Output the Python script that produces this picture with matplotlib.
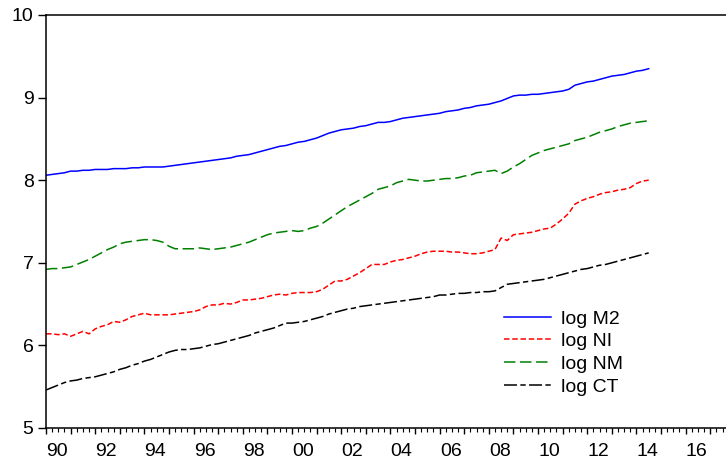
import numpy as np
import matplotlib
matplotlib.use("Agg")
import matplotlib.pyplot as plt
from matplotlib.ticker import MultipleLocator

plt.rcParams['font.family'] = ['Liberation Sans', 'DejaVu Sans']

# quarterly series, 1990Q1 - 2014Q3
start_year = 1990
log_m2 = [
    8.06, 8.07, 8.08, 8.09,  8.11, 8.11, 8.12, 8.12,  8.13, 8.13, 8.13, 8.14,
    8.14, 8.14, 8.15, 8.15,  8.16, 8.16, 8.16, 8.16,  8.17, 8.18, 8.19, 8.20,
    8.21, 8.22, 8.23, 8.24,  8.25, 8.26, 8.27, 8.29,  8.30, 8.31, 8.33, 8.35,
    8.37, 8.39, 8.41, 8.42,  8.44, 8.46, 8.47, 8.49,  8.51, 8.54, 8.57, 8.59,
    8.61, 8.62, 8.63, 8.65,  8.66, 8.68, 8.70, 8.70,  8.71, 8.73, 8.75, 8.76,
    8.77, 8.78, 8.79, 8.80,  8.81, 8.83, 8.84, 8.85,  8.87, 8.88, 8.90, 8.91,
    8.92, 8.94, 8.96, 8.99,  9.02, 9.03, 9.03, 9.04,  9.04, 9.05, 9.06, 9.07,
    9.08, 9.10, 9.15, 9.17,  9.19, 9.20, 9.22, 9.24,  9.26, 9.27, 9.28, 9.30,
    9.32, 9.33, 9.35,
]
log_ni = [
    6.14, 6.14, 6.13, 6.14,  6.11, 6.14, 6.17, 6.14,  6.20, 6.23, 6.25, 6.29,
    6.28, 6.31, 6.35, 6.37,  6.39, 6.37, 6.37, 6.37,  6.37, 6.38, 6.39, 6.40,
    6.41, 6.43, 6.47, 6.49,  6.49, 6.51, 6.50, 6.52,  6.55, 6.55, 6.56, 6.57,
    6.59, 6.61, 6.62, 6.61,  6.63, 6.64, 6.64, 6.64,  6.65, 6.68, 6.73, 6.78,
    6.78, 6.80, 6.84, 6.88,  6.93, 6.98, 6.98, 6.98,  7.01, 7.03, 7.04, 7.06,
    7.08, 7.11, 7.13, 7.14,  7.14, 7.14, 7.13, 7.13,  7.12, 7.11, 7.11, 7.12,
    7.14, 7.16, 7.30, 7.27,  7.34, 7.35, 7.36, 7.37,  7.39, 7.41, 7.42, 7.47,
    7.53, 7.60, 7.71, 7.75,  7.78, 7.80, 7.83, 7.85,  7.86, 7.88, 7.89, 7.91,
    7.96, 7.99, 8.00,
]
log_nm = [
    6.92, 6.93, 6.93, 6.94,  6.95, 6.98, 7.01, 7.04,  7.08, 7.12, 7.16, 7.19,
    7.23, 7.25, 7.26, 7.27,  7.28, 7.28, 7.27, 7.25,  7.20, 7.17, 7.17, 7.17,
    7.17, 7.18, 7.17, 7.16,  7.17, 7.18, 7.19, 7.21,  7.23, 7.25, 7.28, 7.31,
    7.34, 7.36, 7.37, 7.38,  7.39, 7.38, 7.39, 7.42,  7.44, 7.48, 7.53, 7.58,
    7.63, 7.68, 7.72, 7.76,  7.80, 7.84, 7.89, 7.91,  7.93, 7.97, 7.99, 8.01,
    8.00, 7.99, 7.99, 8.00,  8.01, 8.02, 8.02, 8.03,  8.05, 8.06, 8.09, 8.10,
    8.11, 8.12, 8.08, 8.11,  8.16, 8.20, 8.25, 8.30,  8.33, 8.36, 8.38, 8.40,
    8.42, 8.44, 8.48, 8.50,  8.52, 8.55, 8.58, 8.60,  8.62, 8.65, 8.67, 8.69,
    8.70, 8.71, 8.72,
]
log_ct = [
    5.46, 5.49, 5.52, 5.55,  5.57, 5.58, 5.60, 5.61,  5.62, 5.64, 5.66, 5.68,
    5.71, 5.73, 5.76, 5.78,  5.81, 5.83, 5.86, 5.89,  5.92, 5.94, 5.95, 5.95,
    5.96, 5.97, 5.99, 6.01,  6.02, 6.04, 6.06, 6.08,  6.10, 6.12, 6.15, 6.17,
    6.19, 6.21, 6.24, 6.27,  6.27, 6.28, 6.29, 6.31,  6.33, 6.35, 6.38, 6.40,
    6.42, 6.44, 6.45, 6.47,  6.48, 6.49, 6.50, 6.51,  6.52, 6.53, 6.54, 6.55,
    6.56, 6.57, 6.58, 6.59,  6.61, 6.61, 6.62, 6.63,  6.63, 6.64, 6.64, 6.65,
    6.65, 6.66, 6.70, 6.74,  6.75, 6.76, 6.77, 6.78,  6.79, 6.80, 6.82, 6.84,
    6.86, 6.88, 6.90, 6.92,  6.93, 6.95, 6.97, 6.98,  7.00, 7.02, 7.04, 7.06,
    7.08, 7.10, 7.12,
]
labels = ['log M2', 'log NI', 'log NM', 'log CT']
year_labels = list(range(1990, 2018, 2))

t = start_year + np.arange(len(log_m2)) / 4.0

fig = plt.figure(figsize=(7.26, 4.63), dpi=100)
ax = fig.add_axes([46 / 726, 1 - 428 / 463, 1 - 46 / 726, (428 - 15) / 463])

ax.plot(t, log_m2, color='#0000ff', lw=1.1, label=labels[0])
ax.plot(t, log_ni, color='#ff0000', lw=1.1, dashes=(3.6, 1.8), label=labels[1])
ax.plot(t, log_nm, color='#008000', lw=1.1, dashes=(7.5, 3), label=labels[2])
ax.plot(t, log_ct, color='#000000', lw=1.1, dashes=(8.5, 2.2, 3.5, 2.2), label=labels[3])

ax.set_ylim(5, 10)
ax.set_xlim(1990, 1990 + 680 / 24.6)
ax.set_yticks([5, 6, 7, 8, 9, 10])
ax.tick_params(axis='y', direction='out', length=6, width=1, labelsize=14, pad=3)

# yearly major ticks, quarterly minor ticks, year labels sit mid-year
ax.xaxis.set_major_locator(MultipleLocator(1))
ax.xaxis.set_minor_locator(MultipleLocator(0.25))
ax.tick_params(axis='x', which='major', direction='out', length=4.5, width=1, labelbottom=False)
ax.tick_params(axis='x', which='minor', direction='out', length=3, width=0.8)
for yr in year_labels:
    ax.annotate('%02d' % (yr % 100), xy=(yr + 0.45, 0), xycoords=('data', 'axes fraction'),
                xytext=(0, -10.5), textcoords='offset points', ha='center', va='top', fontsize=14)

ax.spines['right'].set_visible(False)
for s in ['left', 'top', 'bottom']:
    ax.spines[s].set_linewidth(1.1)

leg = ax.legend(loc='upper left', bbox_to_anchor=(504 / 726, 1 - 310 / 463),
                bbox_transform=fig.transFigure, frameon=False, fontsize=14,
                handlelength=2.4, handletextpad=0.55, labelspacing=0.26,
                borderpad=0, borderaxespad=0)

fig.savefig('out.png', dpi=100)
